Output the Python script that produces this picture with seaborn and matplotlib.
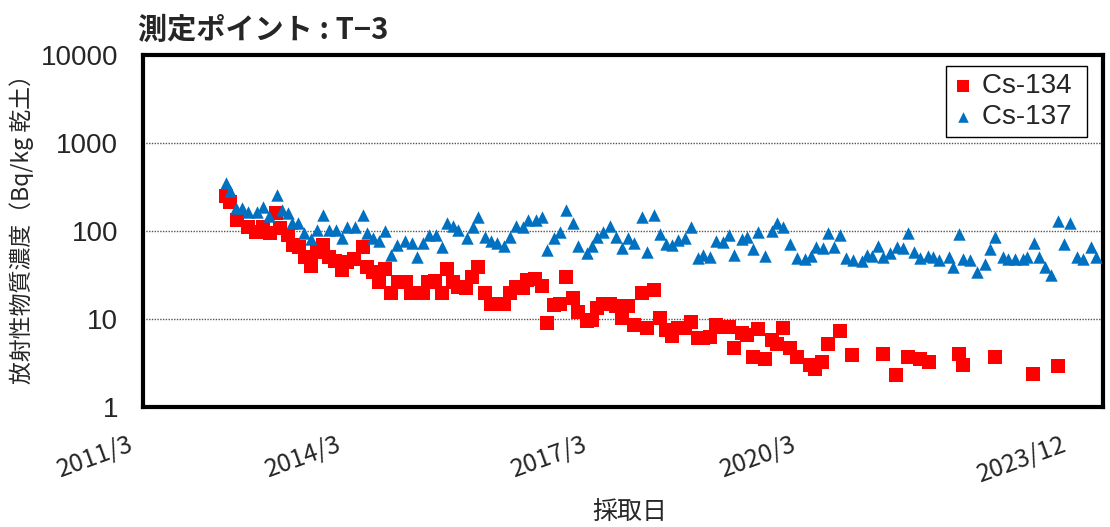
import numpy as np
import pandas as pd
import matplotlib
matplotlib.use("Agg")
import matplotlib.pyplot as plt
import seaborn as sns

# ── Data ─────────────────────────────────────────────────────────────────────
cs134_dates = [
    "2012-04-11", "2012-04-30", "2012-06-04", "2012-07-27", "2012-09-05", "2012-10-09",
    "2012-11-13", "2012-12-12", "2013-01-01", "2013-02-05", "2013-03-04", "2013-04-03",
    "2013-05-02", "2013-06-01", "2013-06-30", "2013-07-29", "2013-08-28", "2013-09-27",
    "2013-10-30", "2013-11-24", "2013-12-28", "2014-02-11", "2014-03-01", "2014-03-30",
    "2014-04-29", "2014-05-28", "2014-06-27", "2014-07-30", "2014-09-09", "2014-10-03",
    "2014-11-02", "2014-12-01", "2014-12-25", "2015-01-29", "2015-03-02", "2015-03-27",
    "2015-04-26", "2015-05-19", "2015-06-28", "2015-07-27", "2015-08-26", "2015-09-30",
    "2015-10-29", "2015-11-27", "2016-01-01", "2016-01-30", "2016-02-28", "2016-04-03",
    "2016-04-22", "2016-06-01", "2016-07-04", "2016-07-29", "2016-09-02", "2016-10-01",
    "2016-10-30", "2016-12-04", "2016-12-28", "2017-02-11", "2017-03-05", "2017-03-29",
    "2017-04-28", "2017-06-02", "2017-07-01", "2017-07-30", "2017-08-29", "2017-09-28",
    "2017-11-06", "2017-12-01", "2018-01-04", "2018-02-03", "2018-03-02", "2018-04-01",
    "2018-04-30", "2018-06-04", "2018-07-03", "2018-08-06", "2018-09-01", "2018-10-04",
    "2018-11-03", "2018-12-07", "2019-01-06", "2019-01-30", "2019-03-09", "2019-04-03",
    "2019-05-02", "2019-05-26", "2019-06-29", "2019-08-03", "2019-08-27", "2019-09-26",
    "2019-10-30", "2019-12-04", "2020-02-06", "2020-03-01", "2020-04-04", "2020-05-03",
    "2020-07-01", "2020-08-29", "2021-01-29", "2021-04-01", "2021-05-29", "2021-07-27",
    "2021-09-10", "2022-02-05", "2022-02-24", "2022-07-29", "2023-02-01", "2023-06-02",
]
cs134_values = [
    250, 214, 133, 111, 97, 111,
    95, 160, 108, 90, 69, 66,
    51, 40, 58, 69, 51, 46,
    36, 44, 48, 66, 39, 34,
    26, 37, 20, 26, 26, 20,
    20, 20, 26, 27, 20, 37,
    26, 23, 22.5, 30, 39, 20,
    15, 15, 15, 20, 23, 22.5,
    28, 28.5, 24, 9.0, 14.4, 15,
    30, 17.3, 12, 9.5, 9.7, 13.3,
    15, 15, 14, 10.3, 14, 8.6,
    20, 7.9, 21.4, 10.3, 7.5, 6.4,
    7.9, 7.9, 9.3, 6.1, 6.1, 6.2,
    8.6, 8.1, 8.1, 4.7, 6.9, 6.6,
    3.7, 7.7, 3.5, 5.8, 5.2, 7.9,
    4.7, 3.7, 3.0, 2.7, 3.25, 5.2,
    7.3, 3.9, 4.0, 2.3, 3.7, 3.5,
    3.25, 4.0, 3.0, 3.7, 2.4, 2.9,
]

cs137_dates = [
    "2012-04-11", "2012-04-30", "2012-05-29", "2012-06-28", "2012-07-27", "2012-09-10",
    "2012-10-09", "2012-11-08", "2012-12-17", "2013-01-11", "2013-02-05", "2013-02-28",
    "2013-03-28", "2013-04-27", "2013-06-01", "2013-06-30", "2013-07-29", "2013-08-28",
    "2013-10-01", "2013-10-30", "2013-11-24", "2014-01-03", "2014-02-11", "2014-03-01",
    "2014-03-30", "2014-04-29", "2014-05-28", "2014-06-27", "2014-07-25", "2014-09-04",
    "2014-10-08", "2014-11-02", "2014-12-01", "2014-12-30", "2015-02-03", "2015-03-02",
    "2015-03-27", "2015-04-26", "2015-05-19", "2015-07-03", "2015-08-02", "2015-08-26",
    "2015-09-30", "2015-10-29", "2015-11-27", "2016-01-01", "2016-01-30", "2016-02-28",
    "2016-04-03", "2016-04-27", "2016-06-06", "2016-07-04", "2016-07-29", "2016-09-02",
    "2016-10-01", "2016-10-30", "2016-12-04", "2016-12-28", "2017-02-11", "2017-03-05",
    "2017-03-29", "2017-04-28", "2017-06-02", "2017-07-01", "2017-07-30", "2017-08-29",
    "2017-09-28", "2017-11-06", "2017-12-01", "2018-01-04", "2018-02-03", "2018-03-02",
    "2018-04-01", "2018-04-30", "2018-06-04", "2018-07-03", "2018-08-06", "2018-09-01",
    "2018-10-04", "2018-11-03", "2018-12-07", "2019-01-06", "2019-01-30", "2019-03-09",
    "2019-04-03", "2019-05-02", "2019-05-26", "2019-06-29", "2019-08-03", "2019-08-27",
    "2019-09-26", "2019-10-30", "2019-12-04", "2020-01-12", "2020-02-11", "2020-03-05",
    "2020-04-09", "2020-05-03", "2020-06-02", "2020-07-01", "2020-07-30", "2020-09-04",
    "2020-10-17", "2020-11-11", "2020-12-05", "2021-01-04", "2021-01-29", "2021-03-02",
    "2021-04-06", "2021-05-05", "2021-05-29", "2021-06-28", "2021-07-27", "2021-09-05",
    "2021-09-29", "2021-10-29", "2021-12-17", "2022-01-06", "2022-02-05", "2022-02-24",
    "2022-03-28", "2022-05-02", "2022-06-10", "2022-07-04", "2022-07-29", "2022-09-07",
    "2022-10-01", "2022-11-05", "2022-12-13", "2023-01-03", "2023-02-06", "2023-03-01",
    "2023-03-30", "2023-04-28", "2023-06-02", "2023-07-01", "2023-07-30", "2023-09-04",
    "2023-10-03", "2023-11-11", "2023-12-05",
]
cs137_values = [
    350, 285, 183, 183, 164, 164,
    187, 148, 257, 173, 160, 123,
    123, 95, 81, 103, 152, 103,
    103, 83, 111, 111, 152, 95,
    83, 77, 100, 53, 69, 77,
    73, 51, 73, 90, 90, 66,
    123, 114, 103, 83, 111, 144,
    86, 77, 73, 68, 86, 114,
    111, 133, 133, 144, 61, 83,
    97, 173, 123, 68, 56, 68,
    86, 97, 114, 86, 64, 83,
    73, 144, 58, 152, 93, 71,
    69, 79, 83, 111, 49, 53,
    51, 77, 75, 90, 53, 81,
    86, 62, 97, 52, 100, 123,
    111, 71, 49, 48, 52, 66,
    64, 95, 66, 90, 49, 47,
    46, 53, 52, 67, 51, 56,
    66, 64, 95, 58, 49, 52,
    51, 47, 51, 39, 93, 48,
    47, 34, 42, 62, 86, 51,
    48, 48, 48, 51, 73, 51,
    39, 32, 130, 71, 123, 51,
    48, 66, 51,
]

tick_dates = ["2014-03-01", "2017-03-01", "2020-03-01", "2023-03-01"]
date_labels = ["2011/3", "2014/3", "2017/3", "2020/3", "2023/12"]
x_range = ["2011-03-01", "2024-01-09"]

# ── Style ────────────────────────────────────────────────────────────────────
sns.set_style("white")
JP = ["Noto Sans CJK JP", "DejaVu Sans"]
LAT = ["Liberation Sans", "DejaVu Sans"]
plt.rcParams["font.family"] = JP
RED = "#FF0000"
BLUE = "#0070C0"

df134 = pd.DataFrame({"date": pd.to_datetime(cs134_dates), "value": cs134_values})
df137 = pd.DataFrame({"date": pd.to_datetime(cs137_dates), "value": cs137_values})

fig = plt.figure(figsize=(11.1, 5.27), dpi=100)
ax = fig.add_axes([143 / 1110, 120 / 527, 960 / 1110, 352 / 527])

sns.scatterplot(data=df134, x="date", y="value", marker="s", s=88, color=RED,
                linewidth=0, ax=ax, label="Cs-134 ", zorder=3)
sns.scatterplot(data=df137, x="date", y="value", marker="^", s=80, color=BLUE,
                linewidth=0, ax=ax, label="Cs-137 ", zorder=4)

ax.set_yscale("log")
ax.set_ylim(1, 10000)
ax.set_xlim(pd.to_datetime(x_range[0]), pd.to_datetime(x_range[1]))
ax.set_yticks([1, 10, 100, 1000, 10000])
ax.set_yticklabels(["1", "10", "100", "1000", "10000"], fontfamily=LAT, fontsize=20)
ax.yaxis.set_minor_locator(matplotlib.ticker.NullLocator())
ax.tick_params(axis="y", length=0, pad=18)

ax.set_xticks(pd.to_datetime(tick_dates))
ax.tick_params(axis="x", direction="in", length=4, width=1, color="black",
               labelbottom=False)

for y in [10, 100, 1000]:
    ax.axhline(y, color="#555555", lw=1, ls=(0, (1, 1)), zorder=1)

for sp in ax.spines.values():
    sp.set_visible(True)
    sp.set_color("black")
    sp.set_linewidth(3)

# rotated date labels under the axis
label_x = [135, 343, 589, 798, 1068]
for lab, px in zip(date_labels, label_x):
    ax.text((px - 143) / 960, -0.122, lab, transform=ax.transAxes, rotation=20,
            rotation_mode="anchor", ha="right", va="baseline", fontsize=18)

ax.set_xlabel("")
ax.set_ylabel("")
fig.text(630 / 1110, 1 - 512 / 527, "採取日", ha="center", va="center", fontsize=18)
fig.text(22 / 1110, 1 - 224 / 527, "放射性物質濃度（Bq/kg 乾土）", rotation=90,
         ha="center", va="center", fontsize=16.5)
fig.text(138 / 1110, 1 - 30 / 527, "測定ポイント : T−3", ha="left", va="center",
         fontsize=21, fontweight="bold")

leg = ax.legend(loc="upper right", bbox_to_anchor=(0.983, 0.969), frameon=True,
                fancybox=False, edgecolor="black", framealpha=1,
                prop={"family": LAT, "size": 20}, handlelength=0.7,
                handletextpad=0.35, borderpad=0.25, labelspacing=0.2,
                borderaxespad=0, markerscale=0.85)
leg.get_frame().set_linewidth(1)

fig.savefig("out.png", dpi=100)
